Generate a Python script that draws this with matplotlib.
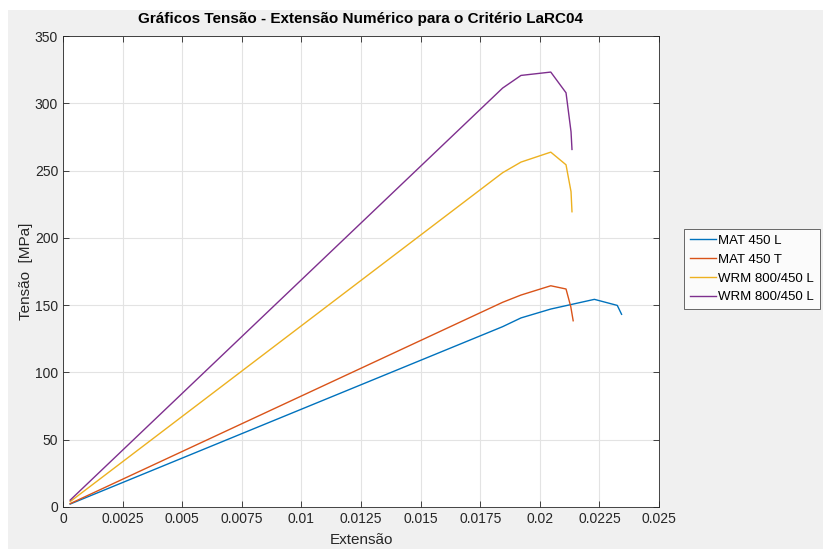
import matplotlib.pyplot as plt
from matplotlib.patches import Rectangle

plt.rcParams['font.family'] = ['Liberation Sans', 'DejaVu Sans']

# Extensão / Tensão [MPa]
x_mat_l = [0.0003, 0.01844, 0.01921, 0.02046, 0.02229, 0.02325, 0.02343]
y_mat_l = [2.2, 134.0, 140.5, 147.1, 154.3, 149.8, 143.2]

x_mat_t = [0.0003, 0.01844, 0.01921, 0.02046, 0.0211, 0.0213, 0.0214]
y_mat_t = [2.5, 152.1, 157.5, 164.4, 162.0, 148.8, 138.4]

x_wrm_a = [0.0003, 0.01844, 0.01921, 0.02046, 0.0211, 0.02131, 0.02135]
y_wrm_a = [4.0, 248.4, 256.3, 263.7, 254.3, 234.3, 219.4]

x_wrm_b = [0.0003, 0.01844, 0.01921, 0.02046, 0.0211, 0.02131, 0.02135]
y_wrm_b = [5.1, 311.3, 320.7, 323.2, 307.8, 278.8, 265.7]

labels = ['MAT 450 L', 'MAT 450 T', 'WRM 800/450 L', 'WRM 800/450 L']
colors = ['#0072BD', '#D95319', '#EDB120', '#7E2F8E']

xticks = [0, 0.0025, 0.005, 0.0075, 0.01, 0.0125, 0.015, 0.0175, 0.02, 0.0225, 0.025]
xticklabels = ['0', '0.0025', '0.005', '0.0075', '0.01', '0.0125', '0.015',
               '0.0175', '0.02', '0.0225', '0.025']
yticks = [0, 50, 100, 150, 200, 250, 300, 350]

fig = plt.figure(figsize=(8.23, 5.49), dpi=100, facecolor='white')
# grey MATLAB figure area with a thin white margin top/left
fig.patches.append(Rectangle((8 / 823, 0), 1, 1 - 10 / 549, transform=fig.transFigure,
                             facecolor='#f0f0f0', edgecolor='none', zorder=-10))

ax = fig.add_axes([63 / 823, 42 / 549, 596 / 823, 471 / 549])
ax.set_facecolor('white')

series = [(x_mat_l, y_mat_l), (x_mat_t, y_mat_t), (x_wrm_a, y_wrm_a), (x_wrm_b, y_wrm_b)]
for (xs, ys), lab, c in zip(series, labels, colors):
    ax.plot(xs, ys, color=c, lw=1.0, label=lab)

ax.set_xlim(0, 0.025)
ax.set_ylim(0, 350)
ax.set_xticks(xticks)
ax.set_xticklabels(xticklabels)
ax.set_yticks(yticks)
ax.grid(True, color='#e3e3e3', lw=0.8)
ax.set_axisbelow(True)
ax.tick_params(direction='in', length=4, top=True, right=True, colors='#262626',
               labelsize=10, width=0.6)
for s in ax.spines.values():
    s.set_color('#262626')
    s.set_linewidth(0.6)

ax.set_xlabel('Extensão', fontsize=11, color='#262626', labelpad=5)
ax.set_ylabel('Tensão  [MPa]', fontsize=11, color='#262626', labelpad=1)
ax.set_title('Gráficos Tensão - Extensão Numérico para o Critério LaRC04',
             fontsize=11, fontweight='bold', color='black', pad=9)

leg = ax.legend(loc='center left', bbox_to_anchor=(684 / 823, 280 / 549),
                bbox_transform=fig.transFigure, fontsize=9.5, frameon=True,
                fancybox=False, handlelength=2.0, handletextpad=0.15,
                borderpad=0.45, labelspacing=0.5, borderaxespad=0)
leg.get_frame().set_edgecolor('#262626')
leg.get_frame().set_linewidth(0.6)
for t in leg.get_texts():
    t.set_color('black')

fig.savefig('out.png', dpi=100, facecolor=fig.get_facecolor())
